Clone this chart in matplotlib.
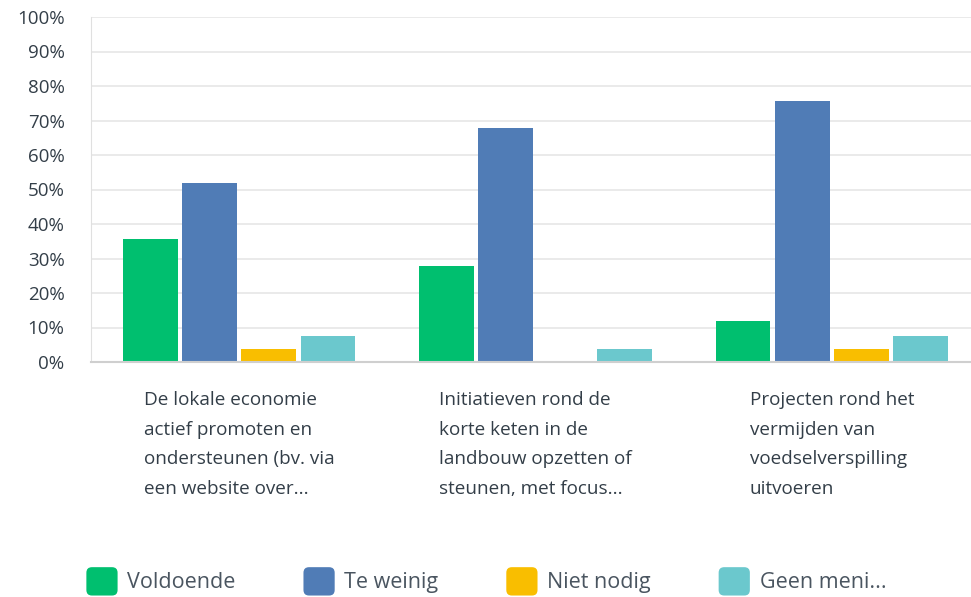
#!/usr/bin/env python3
import matplotlib
matplotlib.use('Agg')
import matplotlib.pyplot as plt
import numpy as np
from matplotlib.patches import Patch, FancyBboxPatch
from matplotlib.legend_handler import HandlerPatch
from matplotlib.ticker import PercentFormatter

# data (percent of respondents)
categories = [
    'De lokale economie\nactief promoten en\nondersteunen (bv. via\neen website over...',
    'Initiatieven rond de\nkorte keten in de\nlandbouw opzetten of\nsteunen, met focus...',
    'Projecten rond het\nvermijden van\nvoedselverspilling\nuitvoeren',
]
series = ['Voldoende', 'Te weinig', 'Niet nodig', 'Geen meni...']
voldoende = [35.7, 27.8, 11.9]
te_weinig = [51.8, 67.7, 75.6]
niet_nodig = [3.9, 0.0, 3.9]
geen_mening = [7.4, 3.9, 7.4]
colors = ['#00BF6F', '#507CB6', '#F9BE00', '#6BC8CD']

plt.rcParams['font.family'] = ['Open Sans', 'DejaVu Sans']
textcol = '#333e48'

fig = plt.figure(figsize=(9.71, 5.97), dpi=100)
ax = fig.add_axes([91 / 971, 235 / 597, 889 / 971, 345 / 597])

x = np.arange(len(categories))
width = 0.185
offsets = [-0.3, -0.1, 0.1, 0.3]
for vals, off, col, name in zip([voldoende, te_weinig, niet_nodig, geen_mening], offsets, colors, series):
    ax.bar(x + off, vals, width, color=col, label=name, zorder=3)

ax.set_xlim(-0.5, 2.5)
ax.set_ylim(0, 100)
ax.set_yticks(np.arange(0, 101, 10))
ax.yaxis.set_major_formatter(PercentFormatter(decimals=0))
ax.grid(axis='y', color='#e8e8e8', linewidth=1.3, zorder=0)
ax.set_axisbelow(True)
for s in ['top', 'right']:
    ax.spines[s].set_visible(False)
ax.spines['left'].set_color('#e0e0e0')
ax.spines['bottom'].set_color('#cfcfcf')
ax.spines['bottom'].set_linewidth(1.5)
ax.spines['bottom'].set_zorder(4)
ax.tick_params(axis='y', length=0, pad=19, labelsize=13.5, labelcolor=textcol)
ax.tick_params(axis='x', length=0, pad=21, labelsize=13.6, labelcolor=textcol)
ax.set_xticks(x)
ax.set_xticklabels(categories, linespacing=1.83, multialignment='left', va='top')


class RoundHandler(HandlerPatch):
    def create_artists(self, legend, orig_handle, xdescent, ydescent, width, height, fontsize, trans):
        p = FancyBboxPatch((-xdescent, -ydescent), width, height,
                           boxstyle='round,pad=0,rounding_size=4',
                           facecolor=orig_handle.get_facecolor(), edgecolor='none', transform=trans)
        return [p]


handles = [Patch(facecolor=c) for c in colors]
fig.legend(handles, series, loc='lower left', bbox_to_anchor=(67 / 971, -0.03), ncol=4,
           frameon=False, handler_map={Patch: RoundHandler()}, handlelength=1.45, handleheight=1.65,
           handletextpad=0.45, columnspacing=3.15, fontsize=15.5, labelcolor='#4a5560')

fig.savefig('out.png', dpi=100)
